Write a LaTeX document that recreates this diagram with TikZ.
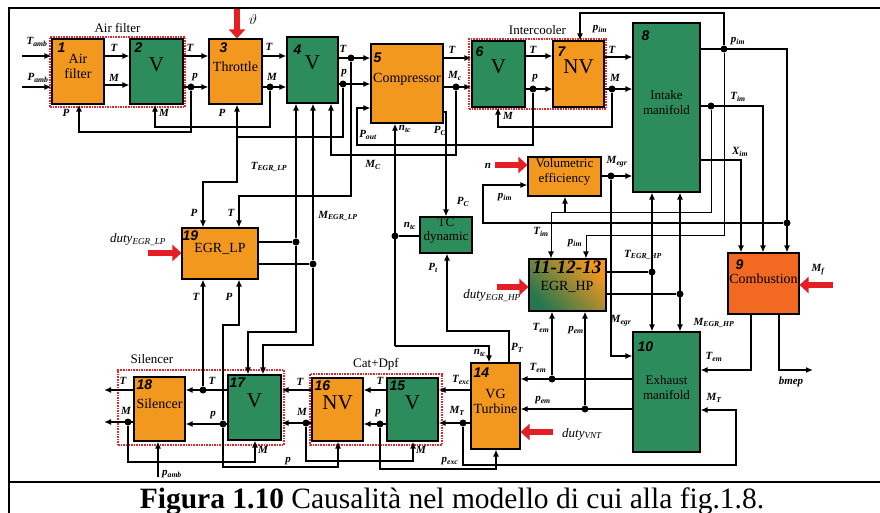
\documentclass[tikz,border=0pt]{standalone}
\usepackage{fontspec}
\setmainfont{Liberation Serif}
\setsansfont{Liberation Sans}
\usetikzlibrary{arrows.meta, positioning, fit}
\definecolor{blockorange}{RGB}{243,152,30}
\definecolor{blockgreen}{RGB}{44,140,92}
\definecolor{combred}{RGB}{242,106,34}
\definecolor{inred}{RGB}{228,30,36}
\definecolor{framered}{RGB}{232,40,40}
\newcommand{\sgl}[2]{#1\textsubscript{#2}}

\begin{document}
\begin{tikzpicture}[x=1pt, y=-1pt,
  block/.style={draw, line width=1.1pt, inner sep=0pt, align=center,
    font=\rmfamily\fontsize{14}{15}\selectfont},
  orblock/.style={block, fill=blockorange},
  grblock/.style={block, fill=blockgreen},
  vtext/.style={font=\rmfamily\fontsize{21}{22}\selectfont},
  numtag/.style={anchor=north west, inner sep=0pt,
    font=\sffamily\bfseries\itshape\fontsize{14}{14}\selectfont},
  wire/.style={line width=1.8pt},
  sig/.style={wire, -{Latex[length=7pt,width=6pt]}},
  sigboth/.style={wire, {Latex[length=7pt,width=6pt]}-{Latex[length=7pt,width=6pt]}},
  fine/.style={line width=1pt},
  jdot/.style={circle, fill, inner sep=0pt, minimum size=7pt},
  cmdarrow/.style={line width=6pt, inred, -{Triangle[length=9pt,width=16pt]}},
  grpframe/.style={draw=framered, line width=1.6pt, dash pattern=on 1.6pt off 1pt, inner sep=0pt},
  grptitle/.style={inner sep=0pt, font=\rmfamily\fontsize{13}{13}\selectfont},
  lbl/.style={inner sep=0pt, font=\rmfamily\fontsize{11}{11}\selectfont\bfseries\itshape}
]
\useasboundingbox (0,0) rectangle (880,513);

% Frame and caption
\draw[line width=1.5pt] (9,513) -- (9,8) -- (880,8);
\draw[line width=1.5pt] (9,482) -- (880,482);
\node[font=\rmfamily\fontsize{29.5}{30}\selectfont, anchor=base] (cap) at (452,508)
  {\textbf{Figura 1.10} Causalità nel modello di cui alla fig.1.8.};

% Group frames
\node[grpframe, fit={(50,37) (185,107)}] (gaf) {};
\node[grpframe, fit={(469,39) (606,109)}] (gic) {};
\node[grpframe, fit={(310,374) (442,445)}] (gcd) {};
\node[grpframe, fit={(118,370) (284,445)}] (gsl) {};
\node[grptitle, above=3pt of gaf] (taf) {Air filter};
\node[grptitle, above=3pt of gic] (tic) {Intercooler};
\node[grptitle, above=3pt of gcd] (tcd) {Cat+Dpf};
\node[grptitle] (tsl) at (152,359) {Silencer};

% Module nodes
\node[orblock, fit={(52,39) (104,104)}] (b1) {Air\\filter};
\node[grblock, vtext, fit={(130,39) (183,104)}] (b2) {V};
\node[orblock, fit={(209,39) (262,104)}] (b3) {Throttle};
\node[grblock, vtext, fit={(287,37) (338,103)}] (b4) {V};
\node[orblock, fit={(371,44) (443,123)}] (b5) {Compressor};
\node[grblock, vtext, fit={(472,41) (525,107)}] (b6) {V};
\node[orblock, vtext, fit={(553,41) (604,107)}] (b7) {NV};
\node[grblock, font=\rmfamily\fontsize{13}{15}\selectfont, fit={(633,23) (700,192)}] (b8) {Intake\\manifold};
\node[orblock, font=\rmfamily\fontsize{13}{15}\selectfont, fit={(528,157) (601,196)}] (bve) {Volumetric\\efficiency};
\node[grblock, font=\rmfamily\fontsize{13}{14}\selectfont, fit={(420,217) (472,253)}] (btc) {TC\\dynamic};
\node[block, top color=blockorange, bottom color=blockgreen!85!black, shading angle=-45,
  fit={(529,259) (606,311)}] (b11) {};
\node[align=center, inner sep=0pt, font=\rmfamily\fontsize{14}{17}\selectfont] (b11t) at (567,277)
  {{\bfseries\itshape\fontsize{19}{19}\selectfont 11-12-13}\\EGR\_HP};
\node[block, fill=combred, fit={(728,253) (799,314)}] (b9) {Combustion};
\node[grblock, font=\rmfamily\fontsize{13}{15}\selectfont, fit={(633,332) (700,452)}] (b10) {Exhaust\\manifold};
\node[orblock, fit={(182,228) (258,279)}] (b19) {EGR\_LP};
\node[orblock, fit={(471,363) (520,449)}] (b14) {VG\\Turbine};
\node[grblock, vtext, fit={(387,378) (438,441)}] (b15) {V};
\node[orblock, vtext, fit={(312,378) (363,441)}] (b16) {NV};
\node[grblock, vtext, fit={(228,375) (281,440)}] (b17) {V};
\node[orblock, fit={(134,377) (185,441)}] (b18) {Silencer};

% Block numbers
\foreach \b/\n/\dx/\dy in {b1/1/6/4, b2/2/5/4, b3/3/11/4, b4/4/7/8, b5/5/3/9,
  b6/6/4/6, b7/7/5/6, b8/8/9/8, b9/9/8/7, b10/10/5/10, b14/14/3/5,
  b15/15/3/3, b16/16/3/3, b17/17/2/3, b18/18/3/3, b19/19/1/3}
  \node[numtag] (n\b) at ([shift={(\dx,\dy)}]\b.north west) {\n};

% Junction dots
\node[jdot] (d1) at (191,87) {};
\node[jdot] (d2) at (270,87) {};
\node[jdot] (d3) at (351,58) {};
\node[jdot] (d4) at (343,84) {};
\node[jdot] (d5) at (456,87) {};
\node[jdot] (d6) at (533,89) {};
\node[jdot] (d7) at (612,89) {};
\node[jdot] (d8) at (724,49) {};
\node[jdot] (d9) at (711,106) {};
\node[jdot] (d10) at (787,223) {};
\node[jdot] (d11) at (611,176) {};
\node[jdot] (d12) at (652,272) {};
\node[jdot] (d13) at (680,294) {};
\node[jdot] (d14) at (463,423) {};
\node[jdot] (d15) at (552,379) {};
\node[jdot] (d16) at (585,409) {};
\node[jdot] (d17) at (395,236) {};
\node[jdot] (d18) at (296,242) {};
\node[jdot] (d19) at (313,264) {};
\node[jdot] (d20) at (203,390) {};
\node[jdot] (d21) at (223,424) {};
\node[jdot] (d22) at (306,423) {};
\node[jdot] (d23) at (380,424) {};
\node[jdot] (d24) at (128,422) {};

% Free ends
\coordinate (tamb) at (22,56);
\coordinate (pamb) at (22,87);
\coordinate (bmep) at (813,370);
\coordinate (tout) at (104,390);
\coordinate (mout) at (104,422);
\coordinate (pambs) at (158,477);
\coordinate (cth) at (237,9);
\coordinate (cn) at (495,165);
\coordinate (cegrhp) at (497,287);
\coordinate (cegrlp) at (148,253);
\coordinate (cmf) at (833,285);
\coordinate (cvnt) at (553,432);

% Intake line
\draw[sig] (tamb) -- (b1.west |- 0,56);
\draw[sig] (pamb) -- (b1.west |- 0,87);
\draw[sig] (b1.east |- 0,56) -- (b2.west |- 0,56);
\draw[sig] (b1.east |- 0,85) -- (b2.west |- 0,85);
\draw[sig] (b2.east |- 0,56) -- (b3.west |- 0,56);
\draw[sig] (b2.east |- 0,87) -- (b3.west |- 0,87);
\draw[sig] (d1) -- (191,132) -- (79,132) -- (b1.south -| 79,0);
\draw[sig] (b3.east |- 0,56) -- (b4.west |- 0,56);
\draw[sig] (b3.east |- 0,87) -- (b4.west |- 0,87);
\draw[sig] (d2) -- (270,127) -- (155,127) -- (b2.south -| 155,0);
\draw[sig] (b4.east |- 0,58) -- (b5.west |- 0,58);
\draw[sig] (b4.east |- 0,84) -- (b5.west |- 0,84);
\draw[sig] (d4) -- (343,137) -- (237,137) -- (b3.south -| 237,0);
\draw[sig] (237,137) -- (237,182) -- (203,182) -- (b19.north -| 203,0);
\draw[sig] (d3) -- (351,196) -- (239,196) -- (b19.north -| 239,0);
\draw[sig] (d6) -- (533,145) -- (357,145) -- (357,108) -- (b5.west |- 0,108);
\draw[sig] (d5) -- (456,155) -- (331,155) -- (b4.south -| 331,0);
\draw[sig] (b5.east |- 0,58) -- (b6.west |- 0,58);
\draw[sig] (b5.east |- 0,87) -- (b6.west |- 0,87);
\draw[sig] (b6.east |- 0,56) -- (b7.west |- 0,56);
\draw[sig] (b6.east |- 0,89) -- (b7.west |- 0,89);
\draw[sig] (b7.east |- 0,57) -- (b8.west |- 0,57);
\draw[sig] (b7.east |- 0,89) -- (b8.west |- 0,89);
\draw[sig] (d7) -- (612,127) -- (498,127) -- (b6.south -| 498,0);

% Intake manifold outputs
\draw[sig] (b8.east |- 0,49) -- (787,49) -- (b9.north -| 787,0);
\draw[sig] (d8) -- (724,13) -- (580,13) -- (b7.north -| 580,0);
\draw[sig] (b8.east |- 0,106) -- (763,106) -- (b9.north -| 763,0);
\draw[sig] (b8.east |- 0,160) -- (741,160) -- (b9.north -| 741,0);
\draw[sig, fine] (d9) -- (711,212) -- (551,212) -- (b11.north -| 551,0);
\draw[sig] (565,212) -- (bve.south -| 565,0);
\draw[sig] (d10) -- (483,223) -- (483,185) -- (bve.west |- 0,185);
\draw[sig, fine] (d8) -- (724,235) -- (586,235) -- (b11.north -| 586,0);
\draw[sig] (bve.east |- 0,176) -- (b8.west |- 0,176);
\draw[sig] (d11) -- (611,356) -- (b10.west |- 0,356);
\draw[sigboth] (b8.south -| 652,0) -- (b10.north -| 652,0);
\draw[sigboth] (b8.south -| 680,0) -- (b10.north -| 680,0);
\draw[wire] (b11.east |- 0,272) -- (d12);
\draw[wire] (b11.east |- 0,294) -- (d13);

% Combustion outputs
\draw[sig] (b9.south -| 751,0) -- (751,370) -- (b10.east |- 0,370);
\draw[sig] (b9.south -| 779,0) -- (779,370) -- (bmep);

% Turbine and TC
\draw[sig] (b14.west |- 0,390) -- (b15.east |- 0,390);
\draw[sig] (b14.west |- 0,423) -- (b15.east |- 0,423);
\draw[sig] (d14) -- (463,465) -- (736,465) -- (736,410) -- (b10.east |- 0,410);
\draw[sig] (b10.west |- 0,379) -- (b14.east |- 0,379);
\draw[sig] (d15) -- (b11.south -| 552,0);
\draw[sig] (b10.west |- 0,409) -- (b14.east |- 0,409);
\draw[sig] (d16) -- (b11.south -| 585,0);
\draw[wire] (btc.west |- 0,236) -- (d17);
\draw[sig] (395,346) -- (b5.south -| 395,0);
\draw[sig] (395,346) -- (489,346) -- (b14.north -| 489,0);
\draw[sig] (b5.east |- 0,112) -- (446,112) -- (btc.north -| 446,0);
\draw[sig] (b14.north -| 509,0) -- (509,331) -- (447,331) -- (btc.south -| 447,0);

% EGR LP
\draw[wire] (b19.east |- 0,242) -- (d18);
\draw[sig] (d18) -- (b4.south -| 296,0);
\draw[sig] (d18) -- (296,332) -- (248,332) -- (b17.north -| 248,0);
\draw[wire] (b19.east |- 0,264) -- (d19);
\draw[sig] (d19) -- (b4.south -| 313,0);
\draw[sig] (d19) -- (313,345) -- (263,345) -- (b17.north -| 263,0);

% Exhaust line
\draw[sig] (b17.west |- 0,390) -- (b18.east |- 0,390);
\draw[sig] (d20) -- (b19.south -| 203,0);
\draw[sig] (b17.west |- 0,424) -- (b18.east |- 0,424);
\draw[sig] (d21) -- (223,325) -- (239,325) -- (b19.south -| 239,0);
\draw[sig] (d21) -- (223,467) -- (338,467) -- (b16.south -| 338,0);
\draw[sig] (b16.west |- 0,390) -- (b17.east |- 0,390);
\draw[sig] (b16.west |- 0,423) -- (b17.east |- 0,423);
\draw[sig] (d22) -- (306,461) -- (413,461) -- (b15.south -| 413,0);
\draw[sig] (b15.west |- 0,390) -- (b16.east |- 0,390);
\draw[sig] (b15.west |- 0,424) -- (b16.east |- 0,424);
\draw[sig] (d23) -- (380,469) -- (496,469) -- (b14.south -| 496,0);
\draw[sig] (b18.west |- 0,390) -- (tout);
\draw[sig] (b18.west |- 0,422) -- (mout);
\draw[sig] (d24) -- (128,462) -- (255,462) -- (b17.south -| 255,0);
\draw[sig] (pambs) -- (b18.south -| 158,0);

% Commands
\draw[cmdarrow] (cth) -- (b3.north -| 237,0);
\draw[cmdarrow] (cn) -- (bve.west |- 0,165);
\draw[cmdarrow] (cegrhp) -- (b11.west |- 0,287);
\draw[cmdarrow] (cegrlp) -- (b19.west |- 0,253);
\draw[cmdarrow] (cmf) -- (b9.east |- 0,285);
\draw[cmdarrow] (cvnt) -- (b14.east |- 0,432);

% Signal labels
\foreach \x/\y/\txt [count=\k] in {
  37/42/{\sgl{T}{amb}}, 38/78/{\sgl{P}{amb}}, 114/48/{T}, 114/78/{M},
  190/48/{T}, 195/77/{p}, 66/113/{P}, 164/113/{M}, 269/47/{T}, 272/77/{M},
  222/113/{P}, 343/49/{T}, 344/73/{p}, 368/135/{\sgl{P}{out}}, 440/131/{\sgl{P}{C}},
  405/129/{\sgl{n}{tc}}, 373/165/{\sgl{M}{C}}, 452/50/{T}, 455/76/{\sgl{M}{c}},
  533/50/{T}, 535/78/{p}, 508/116/{M}, 600/29/{\sgl{p}{im}}, 612/50/{T}, 615/78/{M},
  738/41/{\sgl{p}{im}}, 738/97/{\sgl{T}{im}}, 740/152/{\sgl{X}{im}}, 617/162/{\sgl{M}{egr}},
  488/166/{n}, 505/197/{\sgl{p}{im}}, 463/202/{\sgl{P}{C}}, 410/226/{\sgl{n}{tc}},
  541/232/{\sgl{T}{im}}, 575/243/{\sgl{p}{im}}, 433/268/{\sgl{P}{t}},
  643/255/{\sgl{T}{EGR\_HP}}, 621/321/{\sgl{M}{egr}}, 714/323/{\sgl{M}{EGR\_HP}},
  818/270/{\sgl{M}{f}}, 714/357/{\sgl{T}{em}}, 791/382/{bmep}, 714/398/{\sgl{M}{T}},
  541/328/{\sgl{T}{em}}, 576/330/{\sgl{p}{em}}, 480/353/{\sgl{n}{tc}}, 517/348/{\sgl{P}{T}},
  538/368/{\sgl{T}{em}}, 543/400/{\sgl{p}{em}}, 461/380/{\sgl{T}{exc}}, 457/411/{\sgl{M}{T}},
  450/461/{\sgl{p}{exc}}, 421/450/{M}, 288/461/{p}, 380/381/{T}, 378/413/{p},
  300/382/{T}, 302/412/{M}, 212/381/{T}, 213/415/{p}, 123/381/{T}, 126/411/{M},
  263/450/{M}, 172/474/{\sgl{p}{amb}}, 196/297/{T}, 229/297/{P}, 194/213/{P}, 231/213/{T},
  269/167/{\sgl{T}{EGR\_LP}}, 338/216/{\sgl{M}{EGR\_LP}},
  253/20/{\fontsize{15}{15}\selectfont$\vartheta$},
  492/296/{\fontsize{13}{13}\selectfont\mdseries\sgl{duty}{EGR\_HP}},
  138/240/{\fontsize{13}{13}\selectfont\mdseries\sgl{duty}{EGR\_LP}},
  582/434/{\fontsize{13}{13}\selectfont\mdseries\sgl{duty}{VNT}}}
  \node[lbl] (s\k) at (\x,\y) {\txt};

\end{tikzpicture}
\end{document}
